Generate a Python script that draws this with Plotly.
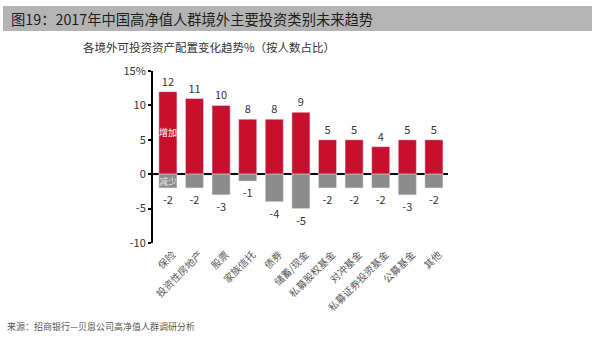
import plotly.graph_objects as go

# Asset categories and the share of respondents planning to increase / decrease
categories = ["保险", "投资性房地产", "股票", "家族信托", "债券", "储蓄/现金",
              "私募股权基金", "对冲基金", "私募证券投资基金", "公募基金", "其他"]
increase = [12, 11, 10, 8, 8, 9, 5, 5, 4, 5, 5]
decrease = [-2, -2, -3, -1, -4, -5, -2, -2, -2, -3, -2]
y_ticks = [15, 10, 5, 0, -5, -10]
y_tick_text = ["15%", "10", "5", "0", "-5", "-10"]

FONT = "Noto Sans CJK SC"
RED = "#C8102E"
GRAY = "#8C8C8C"

W, H = 600, 339
L, R, T, B = 153, 448, 71, 243  # plot-area pixel box


def px(x):
    return (x - L) / (R - L)


def py(y):
    return (B - y) / (B - T)


fig = go.Figure()
fig.add_trace(go.Bar(
    x=categories, y=increase, marker_color=RED, width=0.68,
    text=[str(v) for v in increase], textposition="outside",
    textfont=dict(size=11, color="#333333", family=FONT),
    cliponaxis=False, name="增加",
))
fig.add_trace(go.Bar(
    x=categories, y=decrease, marker_color=GRAY, width=0.68,
    text=[str(v) for v in decrease], textposition="outside",
    textfont=dict(size=11, color="#333333", family=FONT),
    cliponaxis=False, name="减少",
))

fig.update_layout(
    width=W, height=H,
    margin=dict(l=L, r=W - R, t=T, b=H - B),
    paper_bgcolor="white", plot_bgcolor="white",
    barmode="relative", showlegend=False,
    font=dict(family=FONT, color="#333333"),
    xaxis=dict(
        range=[-0.56, 10.53], tickangle=-45, showline=False, showgrid=False,
        ticks="", tickfont=dict(size=10, color="#5A5A5A", family=FONT),
        ticklabelshift=5, ticklabelstandoff=3,
        zeroline=False,
    ),
    yaxis=dict(
        range=[-10, 15], tickvals=y_ticks, ticktext=y_tick_text,
        showgrid=False, showline=True, linecolor="black", linewidth=2,
        ticks="outside", ticklen=3, tickwidth=2, tickcolor="black",
        tickfont=dict(size=11, color="#333333", family=FONT),
        zeroline=True, zerolinecolor="black", zerolinewidth=2,
    ),
)

# Gray title banner
fig.add_shape(type="rect", xref="paper", yref="paper",
              x0=px(3), x1=px(592), y0=py(31), y1=py(6),
              fillcolor="#B4B4B4", line=dict(width=0), layer="below")

annotations = [
    dict(text="图19：2017年中国高净值人群境外主要投资类别未来趋势",
         x=px(9), y=py(18.5), xanchor="left", yanchor="middle",
         font=dict(size=14.3, color="#1E1E1E")),
    dict(text="各境外可投资资产配置变化趋势%（按人数占比）",
         x=px(81), y=py(47), xanchor="left", yanchor="middle",
         font=dict(size=11.5, color="#333333")),
    dict(text="来源：招商银行—贝恩公司高净值人群调研分析",
         x=px(5), y=py(326), xanchor="left", yanchor="middle",
         font=dict(size=9, color="#555555")),
    dict(text="增加", x=categories[0], xref="x", y=6, yref="y",
         xanchor="center", yanchor="middle",
         font=dict(size=9, color="white")),
    dict(text="减少", x=categories[0], xref="x", y=-1, yref="y",
         xanchor="center", yanchor="middle",
         font=dict(size=9, color="#E6E6E6")),
]
for a in annotations:
    a.setdefault("xref", "paper")
    a.setdefault("yref", "paper")
    a["showarrow"] = False
    a["font"]["family"] = FONT
fig.update_layout(annotations=annotations)

fig.write_html("out.html")
